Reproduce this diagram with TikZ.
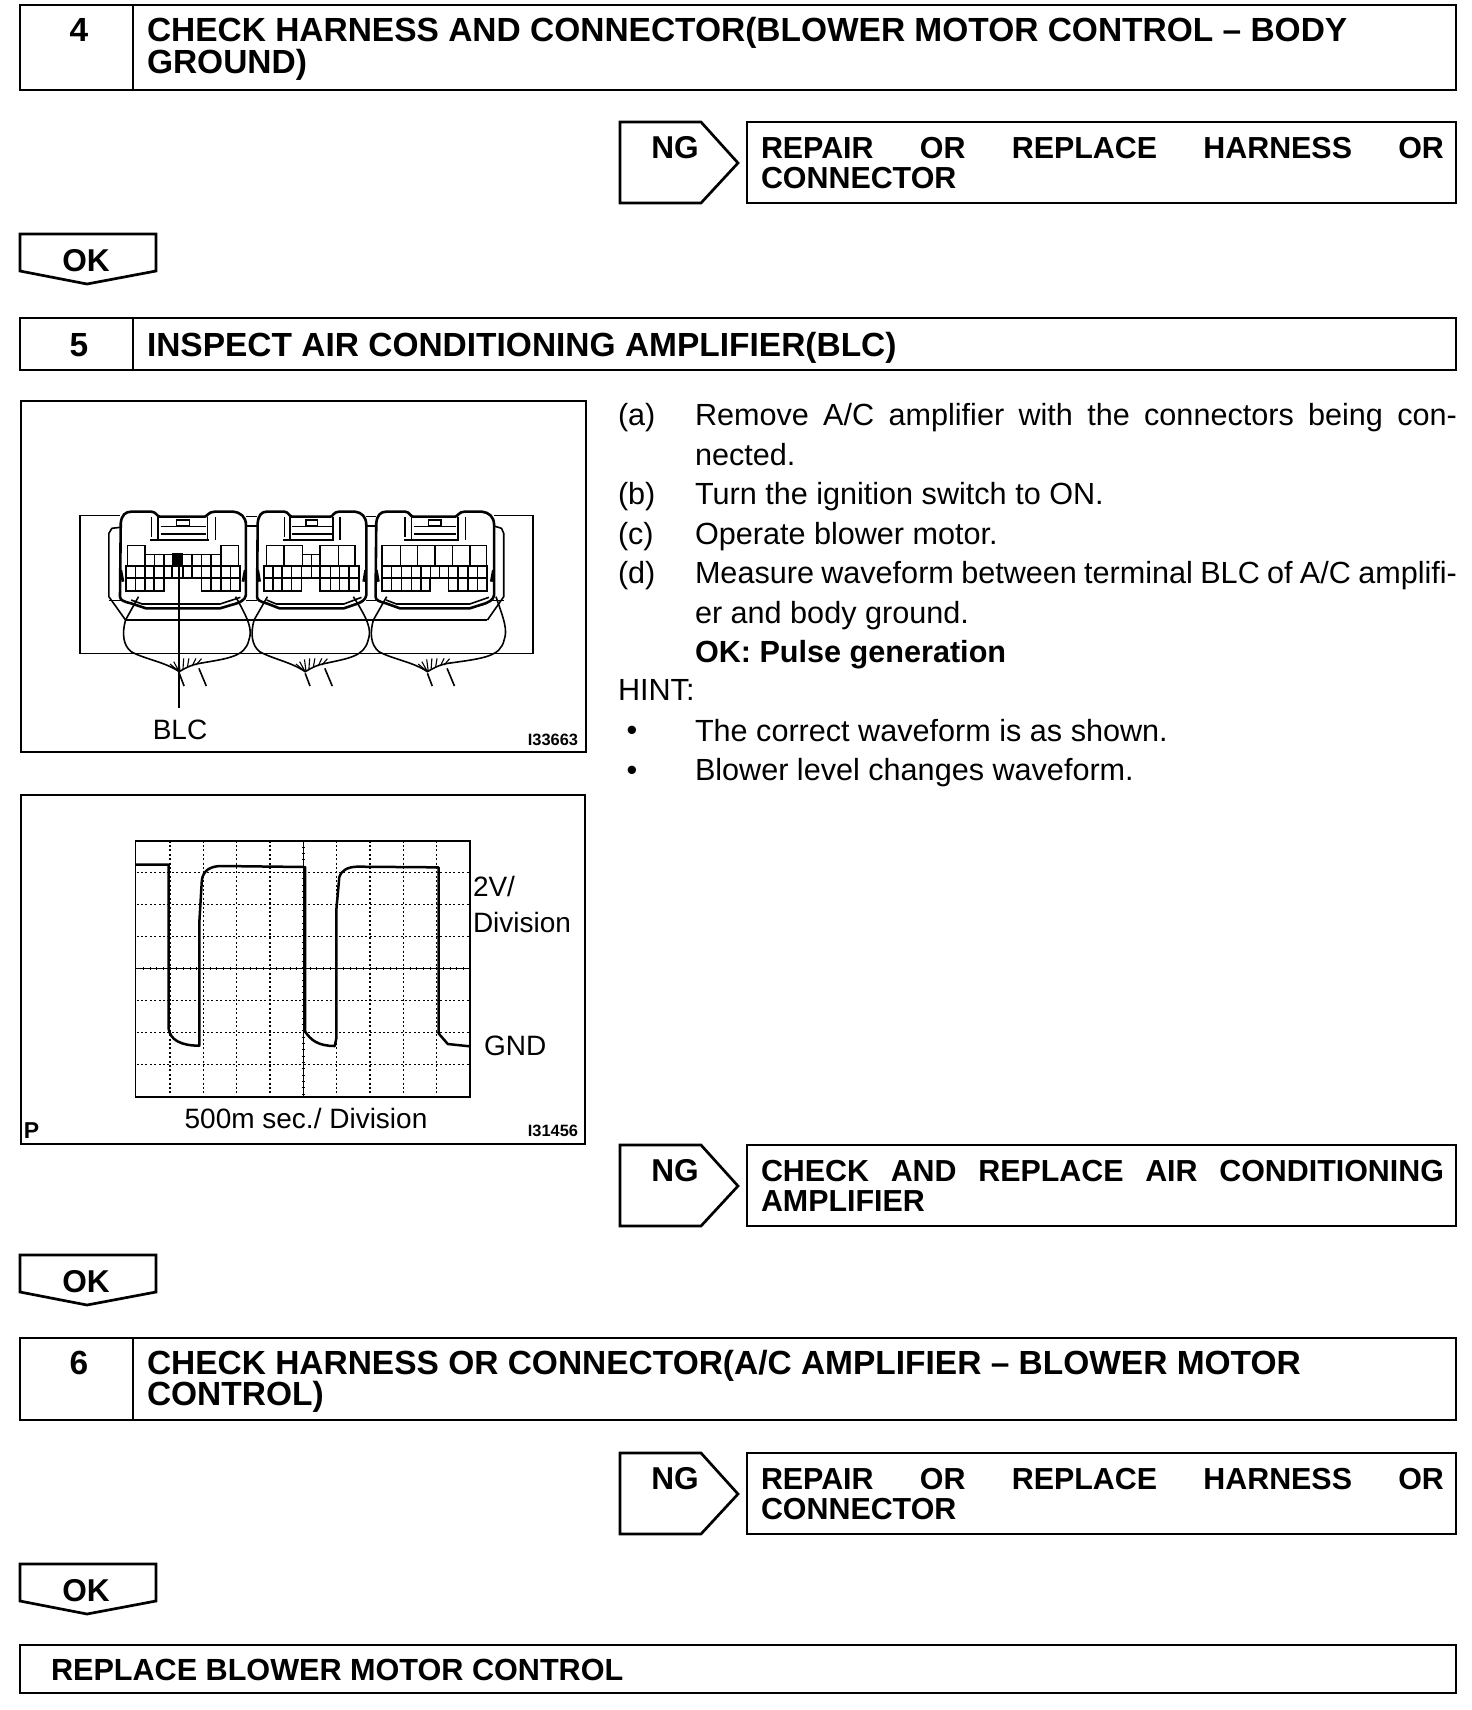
\documentclass[tikz,border=0pt]{standalone}
\usepackage{fontspec}
\setmainfont{Liberation Sans}
\newcommand\tsize{\fontsize{16.74}{20}\selectfont\bfseries}
\newcommand\fsize{\fontsize{15.3}{20}\selectfont\bfseries}
\newcommand\rsize{\fontsize{15.2}{20}\selectfont\bfseries}
\newcommand\gsize{\fontsize{15.8}{20}\selectfont\bfseries}
\newcommand\bsize{\fontsize{15.3}{20}\selectfont}
\tikzset{
  frame/.style={draw=black,line width=1.35pt,line join=miter},
  lab/.style={inner sep=0pt,outer sep=0pt,anchor=base west},
  labc/.style={inner sep=0pt,outer sep=0pt,anchor=base},
  labr/.style={inner sep=0pt,outer sep=0pt,anchor=base east},
  title/.style={lab,font=\tsize},
  num/.style={labc,font=\tsize},
  rep/.style={lab,font=\rsize},
  body/.style={lab,font=\bsize},
  figcode/.style={labr,font=\fontsize{8.2}{10}\selectfont\bfseries},
  figtext/.style={lab,font=\fontsize{14}{18}\selectfont},
  zoomA/.style={shift={(20,400)},x=0.18519pt,y=-0.16667pt},
  zoomB/.style={shift={(20,790)},x=0.18519pt,y=-0.16667pt},
  thin line/.style={line width=0.55pt},
  mid line/.style={line width=0.8pt},
  thick line/.style={line width=1.3pt,line join=round},
  griddot/.style={line width=0.55pt,dash pattern=on 1pt off 1.2pt},
  wave/.style={line width=1.25pt,line join=round}
}
\newcommand\ngflag[2]{%
  \draw[frame] (620,#2) -- (701,#2) -- (738,#2+41) -- (701,#2+81) -- (620,#2+81) -- cycle;
  \node[labc,font=\gsize] (#1) at (675,#2+36) {NG};}
\newcommand\okflag[2]{%
  \draw[frame] (20,#2) -- (156,#2) -- (156,#2+37) -- (87,#2+50) -- (20,#2+37) -- cycle;
  \node[labc,font=\gsize] (#1) at (86,#2+37) {OK};}
\newcommand\repbox[4]{%
  \draw[frame] (747,#2) rectangle (1456,#2+81);
  \node[rep] (#1a) at (761,#2+36) {\makebox[341.5pt][s]{#3}};
  \node[rep] (#1b) at (761,#2+66) {#4};}
% connector shell, coordinates relative to its left side, width 340
\newcommand\shell[2]{%
 \begin{scope}[shift={(#1,0)},xscale=#2/340]
  \draw[thick line] (0,590) -- (2,370) .. controls (4,345) and (15,335) .. (30,335) -- (85,335)
     .. controls (97,335) and (100,350) .. (108,350) -- (228,350) .. controls (236,350) and (238,335) .. (255,335) -- (305,335)
     .. controls (325,337) and (340,350) .. (340,375) -- (340,585) .. controls (338,600) and (325,608) .. (300,615)
     -- (270,625) -- (70,625) -- (30,610) .. controls (10,605) and (0,600) .. (0,590) -- cycle;
  \draw[mid line] (30,600) -- (60,612) -- (270,612) -- (325,592);
  \draw[mid line] (85,350) -- (85,410);
  \draw[mid line] (258,350) -- (258,420);
  \draw[mid line] (82,420) -- (240,420);
  \draw[mid line] (103,350) -- (103,418);
  \draw[mid line] (236,350) -- (236,418);
  \draw[mid line] (110,380) -- (232,380);
  \draw[mid line] (110,402) -- (232,402);
  \draw[mid line,fill=white] (152,360) rectangle (188,376);
  \draw[line width=1.4pt] (2,510) -- (8,545);
  \draw[line width=1.4pt] (338,510) -- (332,545);
 \end{scope}}
% wire loop: top left, left extreme, junction, right extreme, top right
\newcommand\wires[5]{%
  \draw[mid line] (#1,590) -- (#2+7,660) .. controls (#2-3,700) and (#2,735) .. (#2+22,755)
     .. controls (#2+60,778) and (#3-40,785) .. (#3,815)
     .. controls (#3+15,805) and (#3+30,795) .. (#3+55,790)
     .. controls (#4-60,775) and (#4-15,770) .. (#4-5,720)
     .. controls (#4+5,690) and (#4-5,660) .. (#5,590);
  \draw[thin line] (#3,815) -- (#3-25,792) (#3,815) -- (#3-15,785) (#3+2,812) -- (#3-2,778)
     (#3+10,808) -- (#3+12,775) (#3+22,802) -- (#3+26,775) (#3+35,798) -- (#3+45,775) (#3+45,795) -- (#3+60,776);
  \draw[mid line] (#3,820) -- (#3+13,858) (#3+53,805) -- (#3+73,858);}
% horizontal row of cells: #1 top, #2 bottom, #3 list of x
\newcommand\cells[3]{\foreach \cx in {#3} {\draw[mid line] (\cx,#1) -- (\cx,#2);}}
\begin{document}
\begin{tikzpicture}[x=0.5pt,y=-0.5pt]
\useasboundingbox (0,0) rectangle (1472,1710);
\fill[white] (0,0) rectangle (1472,1710);

% ---- step 4
\draw[frame] (20,5) rectangle (1456,90);
\draw[frame] (133,5) -- (133,90);
\node[num] (n4) at (79,41) {4};
\node[title] (t4a) at (147,41) {CHECK HARNESS AND CONNECTOR(BLOWER MOTOR CONTROL -- BODY};
\node[title] (t4b) at (147,73) {GROUND)};
\ngflag{ng1}{122}
\repbox{r1}{122}{REPAIR OR REPLACE HARNESS OR}{CONNECTOR}
\okflag{ok1}{234}

% ---- step 5
\draw[frame] (20,318) rectangle (1456,370);
\draw[frame] (133,318) -- (133,370);
\node[num] (n5) at (79,356) {5};
\node[title] (t5) at (147,356) {INSPECT AIR CONDITIONING AMPLIFIER(BLC)};

% figure 1
\draw[frame] (21,401) rectangle (586,752);
\begin{scope}[zoomA]
  \draw[mid line] (270,346) -- (162,346) -- (162,760) -- (1385,760) -- (1385,346) -- (1280,346);
  \draw[mid line] (610,350) -- (640,350) (610,378) -- (640,378) (935,350) -- (960,350) (935,378) -- (960,378);
  \draw[line width=0.9pt] (285,660) -- (1262,660);
  \draw[mid line] (270,382) -- (248,385) -- (240,400) -- (240,590) -- (285,660);
  \draw[mid line] (1280,378) -- (1300,385) -- (1306,400) -- (1306,590) -- (1262,660);
  \draw[mid line] (240,602) -- (275,602) (1275,602) -- (1306,602) (610,602) -- (640,602) (935,602) -- (960,602);
  \shell{270}{340}
  \shell{640}{295}
  \shell{960}{320}
  \wires{320}{278}{430}{623}{582}
  \wires{668}{625}{770}{945}{900}
  \wires{990}{947}{1100}{1312}{1285}
  % unit 1 cells
  \draw[mid line] (290,498) -- (290,437) -- (338,437) -- (338,498);
  \draw[mid line] (543,498) -- (543,437) -- (590,437) -- (590,498);
  \draw[mid line] (338,463) -- (543,463);
  \cells{463}{498}{363,388,465,490,515}
  \draw[line width=0.95pt] (287,498) rectangle (595,535);
  \draw[line width=0.95pt] (287,535) -- (287,572) -- (388,572) -- (388,535) -- (287,535);
  \draw[line width=0.95pt] (490,535) -- (490,572) -- (595,572) -- (595,535) -- (490,535);
  \cells{498}{572}{312,337,362,515,543,568}
  \cells{498}{535}{388,410,440,465,490}
  \fill[black] (410,460) rectangle (440,498);
  % unit 2 cells
  \draw[mid line] (665,498) -- (665,437) -- (763,437) -- (763,498) (713,437) -- (713,498);
  \draw[mid line] (810,498) -- (810,437) -- (905,437) -- (905,498) (860,437) -- (860,498);
  \draw[mid line] (763,463) -- (810,463) (787,463) -- (787,498);
  \draw[line width=0.95pt] (658,498) rectangle (915,535);
  \draw[line width=0.95pt] (658,535) -- (658,572) -- (760,572) -- (760,535);
  \draw[line width=0.95pt] (810,535) -- (810,572) -- (915,572) -- (915,535);
  \cells{498}{572}{683,708,733,838,863,888}
  \cells{498}{535}{760,787,810}
  % unit 3 cells
  \draw[mid line] (978,498) -- (978,437) -- (1260,437) -- (1260,498);
  \cells{437}{498}{1027,1073,1120,1168,1215}
  \draw[line width=0.95pt] (978,498) rectangle (1260,535);
  \draw[line width=0.95pt] (978,535) -- (978,572) -- (1108,572) -- (1108,535);
  \draw[line width=0.95pt] (1157,535) -- (1157,572) -- (1260,572) -- (1260,535);
  \cells{498}{572}{1003,1030,1057,1082,1183,1210,1235}
  \cells{498}{535}{1108,1133,1157}
  % pointer
  \coordinate (blcpin) at (430,498);
  \coordinate (blcend) at (430,925);
  \draw[line width=0.8pt] (blcpin) -- (blcend);
\end{scope}
\node[figtext,anchor=base] (blc) at (180,739) {BLC};
\node[figcode] (c1) at (578,745) {I33663};

% figure 2
\draw[frame] (21,795) rectangle (585,1144);
\begin{scope}[zoomB]
  \foreach \gx in {405,495,585,675,855,945,1035,1125} {\draw[griddot] (\gx,152) -- (\gx,920);}
  \foreach \gy in {248,344,440,632,728,824} {\draw[griddot] (315,\gy) -- (1215,\gy);}
  \draw[line width=0.85pt] (312,152) rectangle (1215,920);
  \draw[line width=0.7pt] (312,536) -- (1215,536);
  \draw[line width=0.7pt] (765,152) -- (765,920);
  \foreach \tk in {333,351,...,1215} {\draw[line width=0.45pt] (\tk,531) -- (\tk,541);}
  \foreach \tk in {171,190,...,920} {\draw[line width=0.45pt] (760,\tk) -- (770,\tk);}
  \draw[wave] (312,224) -- (401,224) -- (401,715) .. controls (405,750) and (435,767) .. (484,767)
     -- (484,400) -- (491,270) .. controls (495,240) and (515,228) .. (545,228) -- (770,231)
     -- (770,725) .. controls (785,750) and (805,768) .. (850,768) -- (854,745)
     -- (854,360) -- (862,262) .. controls (868,240) and (885,231) .. (910,230) -- (1130,232)
     -- (1130,730) -- (1155,762) -- (1215,769);
\end{scope}
\node[figtext] (v1) at (473,896) {2V/};
\node[figtext] (v2) at (473,932) {Division};
\node[figtext] (gnd) at (484,1055) {GND};
\node[figtext,anchor=base] (tdiv) at (306,1128) {500m sec./ Division};
\node[lab,font=\fontsize{11.5}{12}\selectfont\bfseries] (pmark) at (24,1138) {P};
\node[figcode] (c2) at (578,1136) {I31456};

% instructions
\node[body] (la) at (618,425) {(a)};
\node[body] (ta) at (695,425) {\makebox[381pt][s]{Remove A/C amplifier with the connectors being con-}};
\node[body] (ta2) at (695,465) {nected.};
\node[body] (lb) at (618,504) {(b)};
\node[body] (tb) at (695,504) {Turn the ignition switch to ON.};
\node[body] (lc) at (618,544) {(c)};
\node[body] (tc) at (695,544) {Operate blower motor.};
\node[body] (ld) at (618,583) {(d)};
\node[body] (td) at (695,583) {\makebox[381pt][s]{Measure waveform between terminal BLC of A/C amplifi-}};
\node[body] (td2) at (695,623) {er and body ground.};
\node[body,font=\bsize\bfseries] (tok) at (695,662) {OK: Pulse generation};
\node[body] (hint) at (618,700) {HINT:};
\node[body,anchor=base] (b1) at (632,740) {•};
\node[body] (h1) at (695,741) {The correct waveform is as shown.};
\node[body,anchor=base] (b2) at (632,780) {•};
\node[body] (h2) at (695,780) {Blower level changes waveform.};

\ngflag{ng2}{1145}
\repbox{r2}{1145}{CHECK AND REPLACE AIR CONDITIONING}{AMPLIFIER}
\okflag{ok2}{1255}

% ---- step 6
\draw[frame] (20,1338) rectangle (1456,1420);
\draw[frame] (133,1338) -- (133,1420);
\node[num] (n6) at (79,1374) {6};
\node[title] (t6a) at (147,1374) {CHECK HARNESS OR CONNECTOR(A/C AMPLIFIER -- BLOWER MOTOR};
\node[title] (t6b) at (147,1405) {CONTROL)};
\ngflag{ng3}{1453}
\repbox{r3}{1453}{REPAIR OR REPLACE HARNESS OR}{CONNECTOR}
\okflag{ok3}{1564}

% ---- final
\draw[frame] (20,1645) rectangle (1456,1693);
\node[lab,font=\fsize] (tf) at (51,1680) {REPLACE BLOWER MOTOR CONTROL};
\end{tikzpicture}
\end{document}
